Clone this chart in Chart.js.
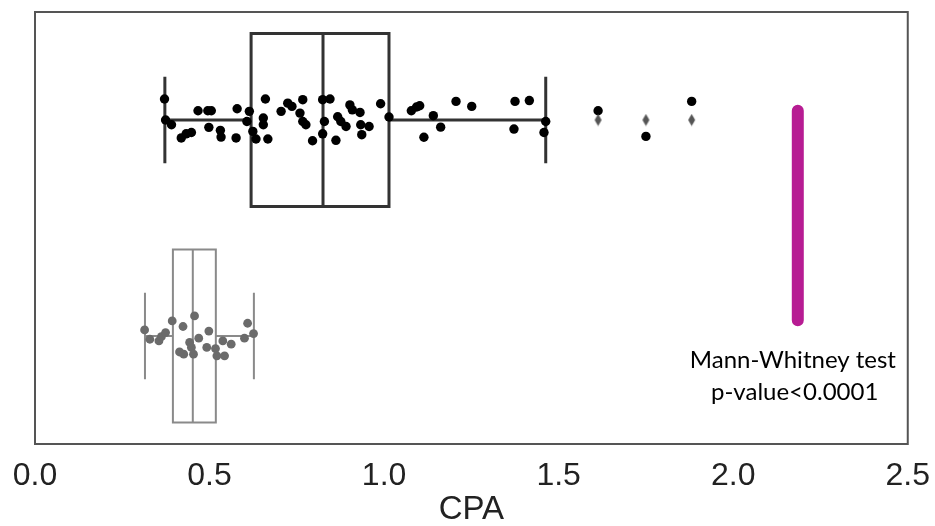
<!DOCTYPE html>
<html>
<head>
<meta charset="utf-8">
<script src="https://cdn.jsdelivr.net/npm/chart.js@4/dist/chart.umd.min.js"></script>
<style>
  html, body { margin: 0; padding: 0; background: #fff; }
  #wrap { width: 935px; height: 526px; }
</style>
</head>
<body>
<div id="wrap"><canvas id="grafico"></canvas></div>
<script>
// ===== DADOS =====
// box stats per group (group 0 = black, group 1 = gray)
const whiskerLow = [0.372, 0.315];
const quart1     = [0.619, 0.395];
const medians    = [0.825, 0.452];
const quart3     = [1.014, 0.518];
const whiskerHigh = [1.463, 0.627];
const fliers0    = [1.613, 1.750, 1.881];

// strip points, x = CPA, y = jitter around the group position
const pts0X = [0.371, 0.374, 0.391, 0.419, 0.433, 0.448, 0.467, 0.495, 0.505, 0.498,
  0.531, 0.533, 0.576, 0.579, 0.614, 0.607, 0.624, 0.633, 0.654, 0.654,
  0.660, 0.667, 0.705, 0.724, 0.736, 0.767, 0.759, 0.767, 0.776, 0.795,
  0.824, 0.845, 0.829, 0.824, 0.862, 0.867, 0.876, 0.891, 0.902, 0.909,
  0.931, 0.933, 0.957, 0.936, 0.990, 1.014, 1.078, 1.093, 1.102, 1.114,
  1.141, 1.162, 1.206, 1.251, 1.375, 1.416, 1.372, 1.463, 1.458, 1.613,
  1.750, 1.881];
const pts0Y = [-0.097, 0.000, 0.022, 0.083, 0.064, 0.058, -0.043, -0.043, -0.043, 0.034,
  0.048, 0.079, 0.083, -0.052, -0.040, 0.007, 0.053, 0.088, -0.009, 0.022,
  -0.097, 0.088, -0.040, -0.078, -0.063, -0.094, -0.032, 0.007, 0.022, 0.096,
  -0.094, -0.097, 0.007, 0.064, 0.094, -0.015, 0.007, 0.030, -0.070, -0.047,
  -0.035, 0.022, 0.030, 0.068, -0.075, -0.014, -0.043, -0.060, -0.066, 0.080,
  -0.020, 0.033, -0.086, -0.063, -0.086, -0.090, 0.042, 0.007, 0.058, -0.043,
  0.076, -0.086];

const pts1X = [0.314, 0.329, 0.355, 0.362, 0.374, 0.393, 0.424, 0.414, 0.426, 0.457,
  0.443, 0.448, 0.454, 0.469, 0.498, 0.492, 0.517, 0.521, 0.543, 0.538,
  0.562, 0.600, 0.609, 0.626];
const pts1Y = [0.972, 1.015, 1.023, 1.003, 0.984, 0.930, 0.956, 1.074, 1.084, 0.907,
  1.030, 1.053, 1.084, 1.010, 0.977, 1.053, 1.058, 1.092, 1.092, 1.023,
  1.038, 1.010, 0.941, 0.989];

// magenta bar + test note
const testLineX = 2.185;
const testLineY = [-0.043, 0.927];
const noteLines = ['Mann-Whitney test', 'p-value<0.0001'];
const noteX = [2.171, 2.176];
const noteY = [1.113, 1.261];

const xTicks = [0.0, 0.5, 1.0, 1.5, 2.0, 2.5];

// ===== ESTILO =====
const boxColors = ['#333333', '#8a8a8a'];
const boxWidths = [3, 2];
const dotColors = ['#000000', '#6b6b6b'];

// thin diamond for fliers
function diamond() {
  const c = document.createElement('canvas');
  c.width = 9; c.height = 13;
  const g = c.getContext('2d');
  g.fillStyle = '#555555';
  g.beginPath();
  g.moveTo(4.5, 0.5); g.lineTo(8, 6.5); g.lineTo(4.5, 12.5); g.lineTo(1, 6.5);
  g.closePath(); g.fill();
  return c;
}

// ===== PLUGINS =====
const boxPlugin = {
  id: 'boxes',
  beforeDatasetsDraw(chart) {
    const ctx = chart.ctx, x = chart.scales.x, y = chart.scales.y;
    for (let i = 0; i < 2; i++) {
      const yc = y.getPixelForValue(i);
      const yT = y.getPixelForValue(i - 0.4), yB = y.getPixelForValue(i + 0.4);
      const cT = y.getPixelForValue(i - 0.2), cB = y.getPixelForValue(i + 0.2);
      const xl = x.getPixelForValue(whiskerLow[i]), xh = x.getPixelForValue(whiskerHigh[i]);
      const q1 = x.getPixelForValue(quart1[i]), q3 = x.getPixelForValue(quart3[i]);
      const md = x.getPixelForValue(medians[i]);
      ctx.save();
      ctx.strokeStyle = boxColors[i];
      ctx.lineWidth = boxWidths[i];
      ctx.beginPath();
      ctx.rect(q1, yT, q3 - q1, yB - yT);
      ctx.moveTo(md, yT); ctx.lineTo(md, yB);
      ctx.moveTo(xl, yc); ctx.lineTo(q1, yc);
      ctx.moveTo(q3, yc); ctx.lineTo(xh, yc);
      ctx.moveTo(xl, cT); ctx.lineTo(xl, cB);
      ctx.moveTo(xh, cT); ctx.lineTo(xh, cB);
      ctx.stroke();
      ctx.restore();
    }
  },
  afterDraw(chart) {
    const ctx = chart.ctx, a = chart.chartArea, x = chart.scales.x, y = chart.scales.y;
    ctx.save();
    ctx.strokeStyle = '#555555';
    ctx.lineWidth = 2;
    ctx.strokeRect(a.left, a.top, a.right - a.left, a.bottom - a.top);
    ctx.fillStyle = '#000';
    ctx.font = '24px Lato';
    ctx.textAlign = 'center';
    ctx.textBaseline = 'middle';
    noteLines.forEach((t, i) => {
      ctx.fillText(t, x.getPixelForValue(noteX[i]), y.getPixelForValue(noteY[i]));
    });
    ctx.restore();
  }
};

// ===== GRÁFICO =====
new Chart(document.getElementById('grafico'), {
  type: 'scatter',
  data: {
    datasets: [
      {
        type: 'line',
        data: testLineY.map(v => ({ x: testLineX, y: v })),
        borderColor: '#b71c93',
        borderWidth: 12,
        borderCapStyle: 'round',
        pointRadius: 0
      },
      {
        data: fliers0.map(v => ({ x: v, y: 0 })),
        pointStyle: diamond(),
        pointRadius: 6
      },
      {
        data: pts1X.map((v, i) => ({ x: v, y: pts1Y[i] })),
        backgroundColor: dotColors[1],
        borderWidth: 0,
        pointRadius: 4.4
      },
      {
        data: pts0X.map((v, i) => ({ x: v, y: pts0Y[i] })),
        backgroundColor: dotColors[0],
        borderWidth: 0,
        pointRadius: 4.7
      }
    ]
  },
  options: {
    responsive: true,
    maintainAspectRatio: false,
    animation: false,
    layout: { padding: { left: 35, right: 27, top: 12, bottom: 0 } },
    plugins: { legend: { display: false }, tooltip: { enabled: false } },
    scales: {
      x: {
        type: 'linear',
        min: 0, max: 2.5,
        afterBuildTicks: s => { s.ticks = xTicks.map(v => ({ value: v })); },
        afterFit: s => { s.height = 82; },
        grid: { display: false },
        border: { display: false },
        ticks: {
          color: '#222',
          padding: 5,
          font: { family: 'Liberation Sans', size: 32 },
          callback: v => v.toFixed(1)
        },
        title: {
          display: true,
          text: 'CPA',
          color: '#222',
          padding: 0,
          font: { family: 'Liberation Sans', size: 33, lineHeight: 1 }
        }
      },
      y: {
        type: 'linear',
        min: -0.5, max: 1.5,
        reverse: true,
        display: false
      }
    }
  },
  plugins: [boxPlugin]
});
</script>
</body>
</html>
